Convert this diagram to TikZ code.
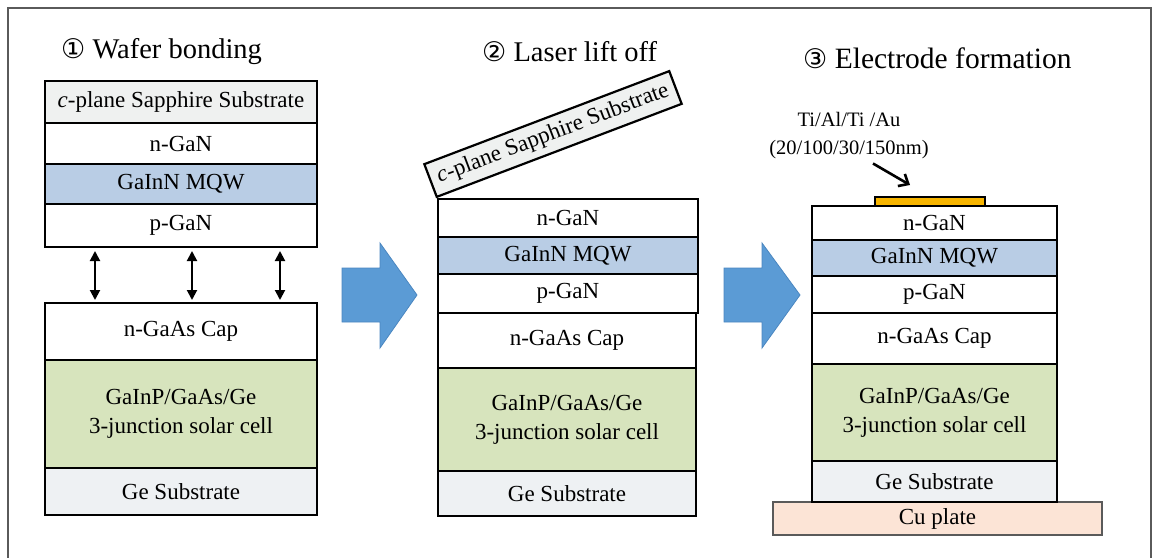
\documentclass[tikz,border=0pt]{standalone}
\usepackage{fontspec}
\setmainfont{Liberation Serif}
\newfontfamily\symfont{DejaVu Sans}
\usetikzlibrary{arrows.meta}
\definecolor{sapc}{HTML}{EFF1F0}
\definecolor{mqwc}{HTML}{B9CDE5}
\definecolor{cellc}{HTML}{D7E4BD}
\definecolor{gec}{HTML}{EEF1F3}
\definecolor{cuc}{HTML}{FCE4D6}
\definecolor{elc}{HTML}{F7B500}
\definecolor{bluec}{HTML}{5B9BD5}
\definecolor{blueedge}{HTML}{4A86C0}
\definecolor{framec}{HTML}{5A5A5A}
\begin{document}
\begin{tikzpicture}[x=1pt,y=-1pt,
  lay/.style={draw=black, line width=2.2pt, inner sep=0pt, outer sep=0pt,
    align=center, font=\fontsize{23}{29}\selectfont},
  ttl/.style={anchor=west, inner sep=0pt, font=\fontsize{28.5}{33}\selectfont},
  dbl/.style={line width=2pt, {Triangle[length=10pt,width=10pt]}-{Triangle[length=10pt,width=10pt]}},
  earrow/.style={line width=2.6pt, -{Straight Barb[length=8pt,width=14pt]}},
  bigarrow/.style={fill=bluec, draw=blueedge, line width=0.8pt, line join=miter}
]
\useasboundingbox (0,0) rectangle (1156,557);
\draw[framec, line width=1.5pt] (8,570) -- (8,8) -- (1151,8) -- (1151,570);

% titles
\node[ttl] (t1) at (61,52) {{\symfont\fontsize{27}{30}\selectfont ①} Wafer bonding};
\node[ttl] (t2) at (482,52) {{\symfont\fontsize{27}{30}\selectfont ②} Laser lift off};
\node[ttl, font=\fontsize{29.5}{34}\selectfont] (t3) at (803,58) {{\symfont\fontsize{27}{30}\selectfont ③} Electrode formation};

% panel 1
\node[lay, fill=sapc, minimum width=272pt, minimum height=42pt] (sap1) at (181,102) {\textit{c}-plane Sapphire Substrate};
\node[lay, fill=white, minimum width=272pt, minimum height=41pt] (ngan1) at (181,143.5) {n-GaN};
\node[lay, fill=mqwc, minimum width=272pt, minimum height=40pt] (mqw1) at (181,184) {GaInN MQW};
\node[lay, fill=white, minimum width=272pt, minimum height=43pt] (pgan1) at (181,225.5) {p-GaN};
\node[lay, fill=white, minimum width=272pt, minimum height=57pt] (cap1) at (181,331.5) {n-GaAs Cap};
\node[lay, fill=cellc, minimum width=272pt, minimum height=108pt] (cell1) at (181,414) {GaInP/GaAs/Ge\\3-junction solar cell};
\node[lay, fill=gec, minimum width=272pt, minimum height=47pt] (ge1) at (181,491.5) {Ge Substrate};

\draw[dbl] ([xshift=50pt,yshift=-4pt]pgan1.south west) -- ([xshift=50pt,yshift=3pt]cap1.north west);
\draw[dbl] ([xshift=147pt,yshift=-4pt]pgan1.south west) -- ([xshift=147pt,yshift=3pt]cap1.north west);
\draw[dbl] ([xshift=235pt,yshift=-4pt]pgan1.south west) -- ([xshift=235pt,yshift=3pt]cap1.north west);

% big arrows
\draw[bigarrow] (342,268) -- (380,268) -- (380,243) -- (417,295) -- (380,348) -- (380,322) -- (342,322) -- cycle;
\draw[bigarrow] (724,268) -- (762,268) -- (762,243) -- (800,295) -- (762,348) -- (762,322) -- (724,322) -- cycle;

% panel 2
\node[lay, fill=sapc, rotate=20.8, minimum width=262pt, minimum height=35pt] (sap2) at (553,134) {\textit{c}-plane Sapphire Substrate};
\node[lay, fill=white, minimum width=260pt, minimum height=38pt] (ngan2) at (568,218) {n-GaN};
\node[lay, fill=mqwc, minimum width=260pt, minimum height=37pt] (mqw2) at (568,255.5) {GaInN MQW};
\node[lay, fill=white, minimum width=260pt, minimum height=39pt] (pgan2) at (568,293.5) {p-GaN};
\node[lay, fill=white, minimum width=258pt, minimum height=55pt] (cap2) at (567,340.5) {n-GaAs Cap};
\node[lay, fill=cellc, minimum width=258pt, minimum height=103pt] (cell2) at (567,419.5) {GaInP/GaAs/Ge\\3-junction solar cell};
\node[lay, fill=gec, minimum width=258pt, minimum height=45pt] (ge2) at (567,493.5) {Ge Substrate};

% panel 3
\node[draw=framec, line width=1.5pt, fill=cuc, minimum width=329pt, minimum height=33pt, inner sep=0pt, font=\fontsize{23}{29}\selectfont] (cu) at (937.5,518.5) {Cu plate};
\node[lay, fill=white, minimum width=245pt, minimum height=34pt] (ngan3) at (934.5,223) {n-GaN};
\node[lay, fill=mqwc, minimum width=245pt, minimum height=36pt] (mqw3) at (934.5,258) {GaInN MQW};
\node[lay, fill=white, minimum width=245pt, minimum height=37pt] (pgan3) at (934.5,294.5) {p-GaN};
\node[lay, fill=white, minimum width=245pt, minimum height=51pt] (cap3) at (934.5,338.5) {n-GaAs Cap};
\node[lay, fill=cellc, minimum width=245pt, minimum height=97pt] (cell3) at (934.5,412.5) {GaInP/GaAs/Ge\\3-junction solar cell};
\node[lay, fill=gec, minimum width=245pt, minimum height=41pt] (ge3) at (934.5,481.5) {Ge Substrate};
\node[draw=black, line width=2pt, fill=elc, minimum width=110pt, minimum height=9pt, inner sep=0pt] (elec) at (930,201.5) {};
\node[align=center, inner sep=0pt, font=\fontsize{20.5}{28}\selectfont] (lab) at (849,136) {Ti/Al/Ti /Au\\(20/100/30/150nm)};
\draw[earrow] ([xshift=24pt,yshift=-4pt]lab.south) -- ([xshift=-20pt,yshift=11pt]elec.north);
\end{tikzpicture}
\end{document}
